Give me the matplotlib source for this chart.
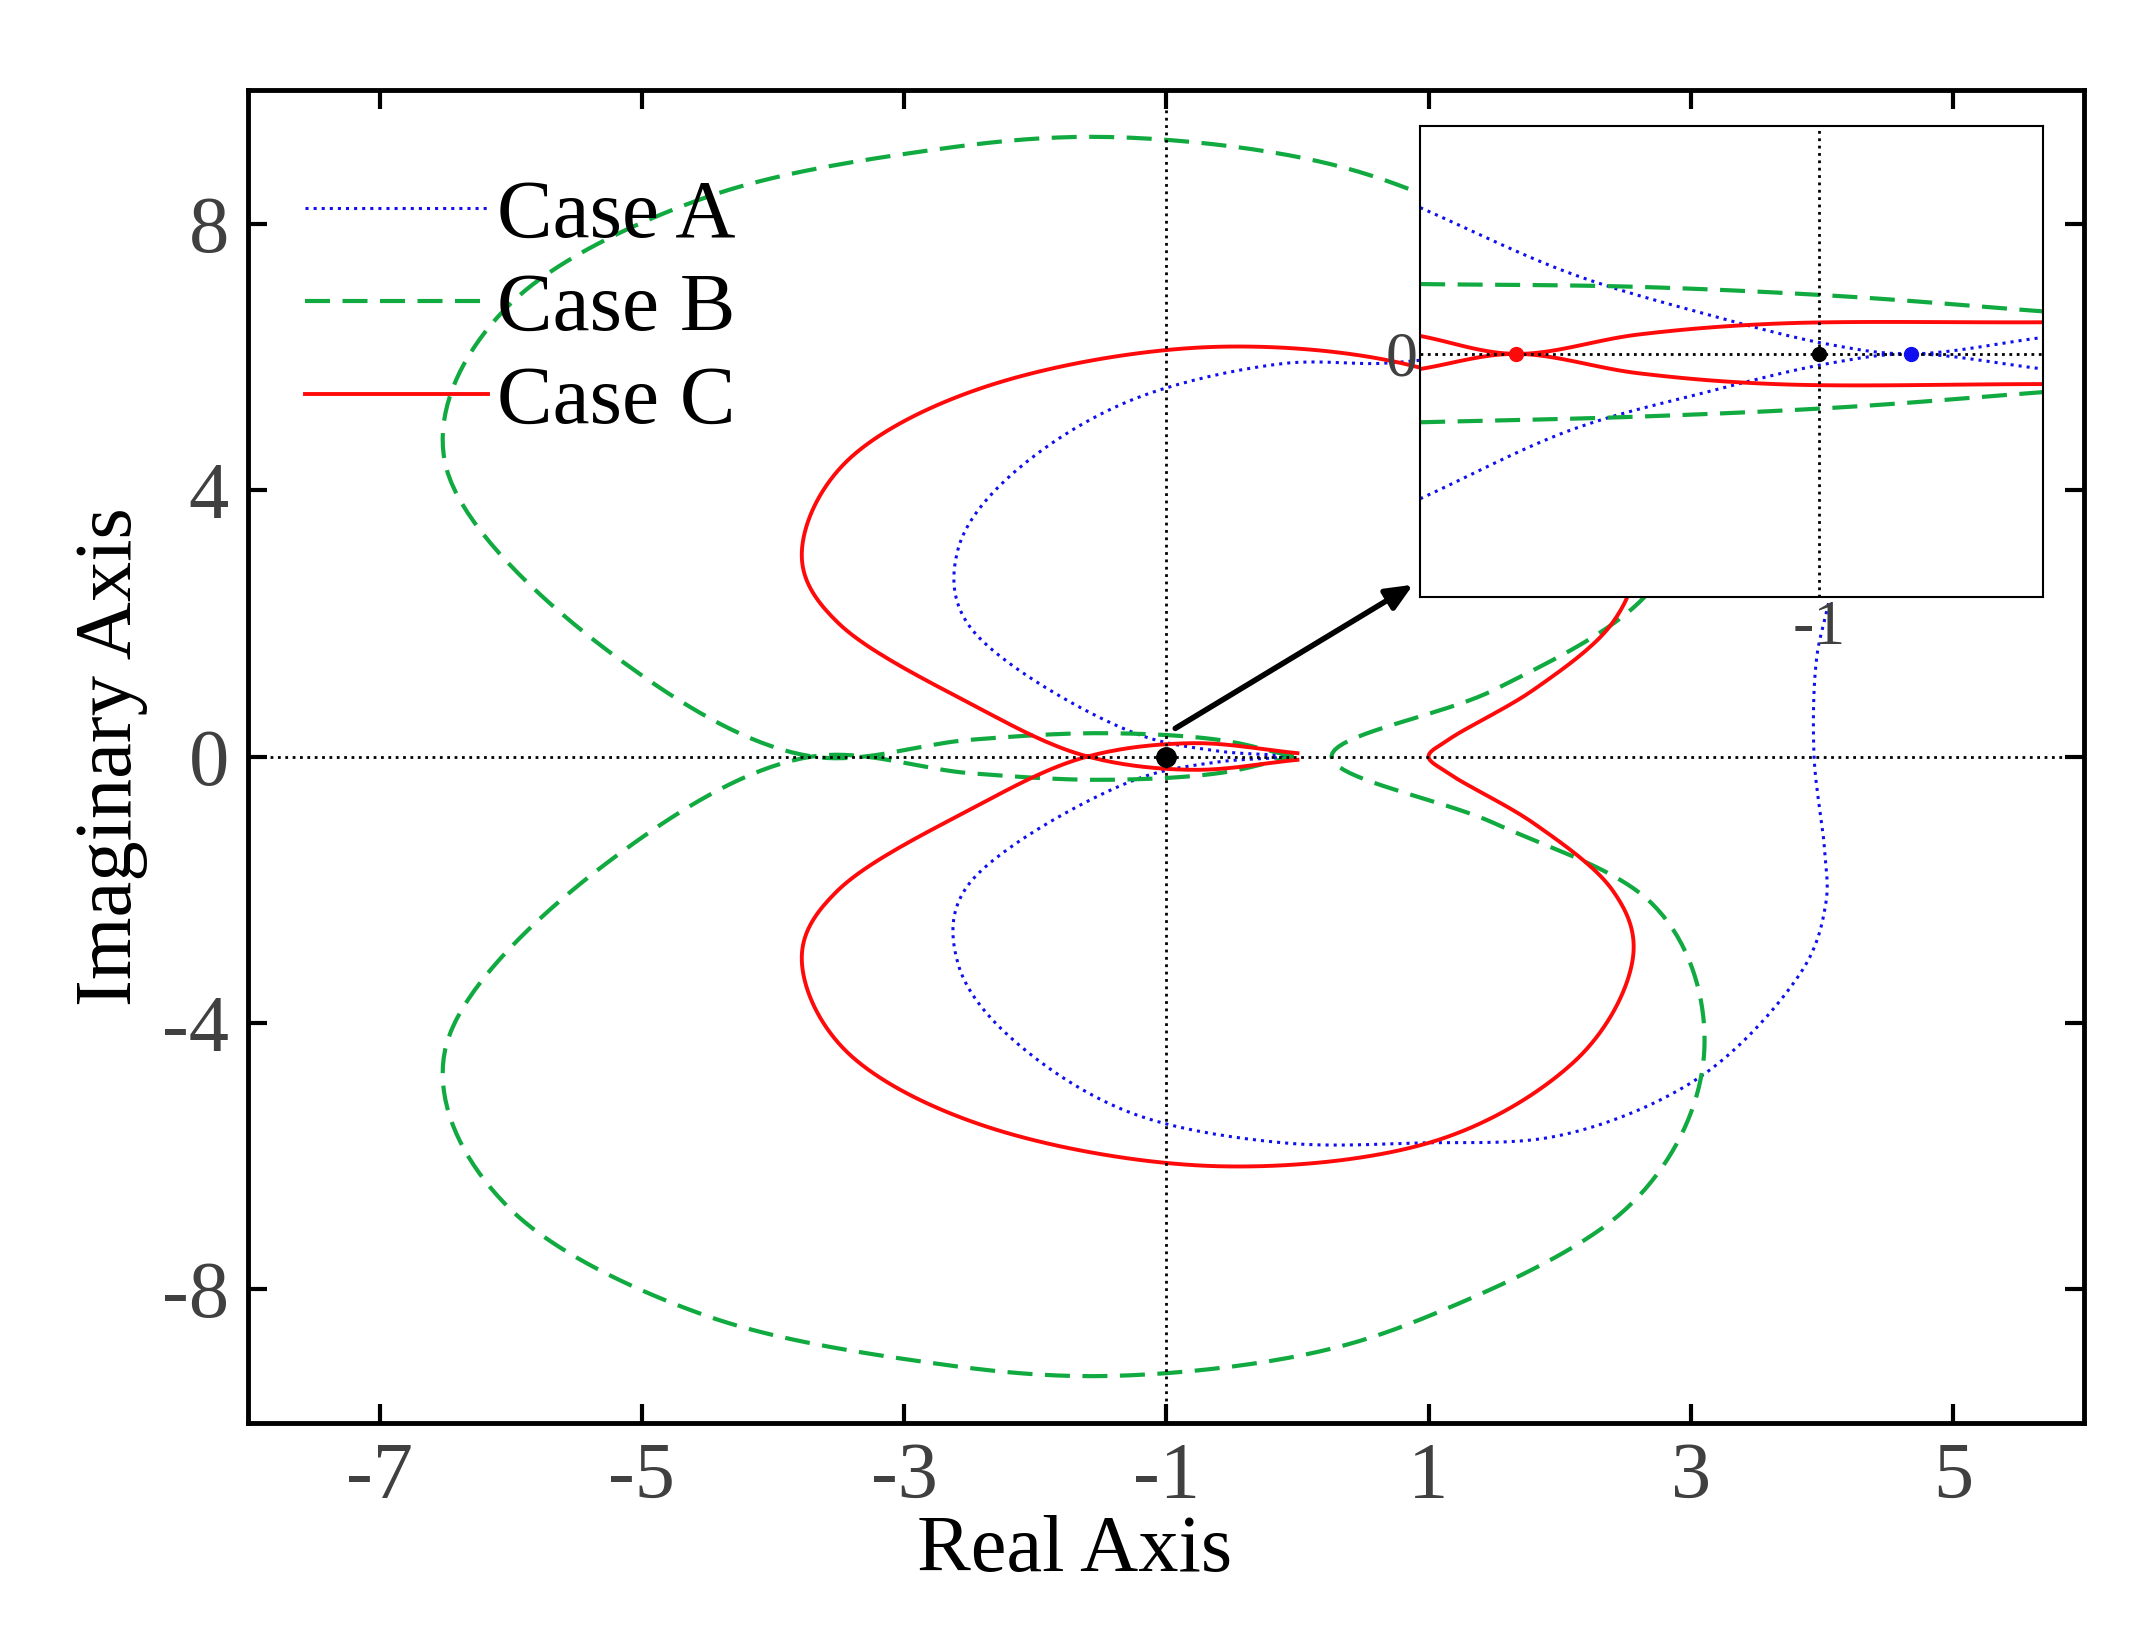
import matplotlib
matplotlib.use("Agg")
import matplotlib.pyplot as plt
import numpy as np

plt.rcParams['font.family'] = ['Liberation Serif', 'DejaVu Serif']
plt.rcParams['axes.unicode_minus'] = False

# Case A (blue dotted) main curve
a_x = [4.05, 3.96, 3.94, 4.02, 4.03, 3.84, 3.0, 1.97, 0.94, -0.1, -1.24, -2.17, -2.59, -2.5, -1.24, -0.6, -0.05,
       -0.6, -1.24, -2.48, -2.59, -2.17, -1.24, -0.1, 0.63, 1.2]
a_y = [2.3, 1.48, 0.0, -1.4, -2.2, -3.24, -4.9, -5.7, -5.8, -5.8, -5.37, -4.25, -3.1, -1.9, -0.35, -0.08, 0.0,
       0.08, 0.35, 1.9, 3.1, 4.25, 5.37, 5.9, 5.9, 6.0]
# Case B (green dashed)
b_x = [-0.03, -0.6, -1.5, -2.5, -3.7, -5.2, -6.5, -6.0, -4.5, -2.8, -1.5, 0.0, 1.0, 2.5, 3.1, 2.65, 1.5, 0.26,
       1.5, 2.7, 3.1, 2.5, 1.0, 0.0, -1.5, -2.8, -4.5, -6.0, -6.5, -5.2, -3.7, -2.5, -1.5, -0.6, -0.03]
b_y = [0.0, 0.25, 0.35, 0.25, 0.0, 1.5, 4.4, 6.8, 8.4, 9.1, 9.3, 9.0, 8.4, 6.8, 4.5, 2.4, 1.0, 0.0,
       -1.0, -2.2, -4.5, -6.8, -8.4, -9.0, -9.3, -9.1, -8.4, -6.8, -4.4, -1.5, 0.0, -0.25, -0.35, -0.25, 0.0]
# Case C (red solid)
c_x = [0.0, -0.8, -1.6, -2.5, -3.5, -3.78, -3.4, -2.3, -0.6, 1.0, 2.1, 2.56, 2.4, 1.8, 1.15, 1.0,
       1.15, 1.8, 2.4, 2.56, 2.1, 1.0, -0.6, -2.3, -3.4, -3.78, -3.5, -2.5, -1.6, -0.8, 0.0]
c_y = [-0.05, -0.2, 0.0, 0.8, 2.0, 3.0, 4.5, 5.6, 6.15, 5.8, 4.6, 3.0, 2.0, 1.0, 0.25, 0.0,
       -0.25, -1.0, -2.0, -3.0, -4.6, -5.8, -6.15, -5.6, -4.5, -3.0, -2.0, -0.8, 0.0, 0.2, 0.05]

# inset curves
ia_x = [-1.128, -1.0799, -1.0361, -0.9967, -0.9705, -0.928]
ia_yu = [0.031, 0.0171, 0.0084, 0.002, 0.0, 0.0035]
ia_yl = [-0.0307, -0.0162, -0.0081, -0.002, 0.0, -0.0032]
ib_x = [-1.128, -1.058, -0.9923, -0.928]
ib_yu = [0.0148, 0.0142, 0.0122, 0.009]
ib_yl = [-0.0145, -0.0133, -0.0113, -0.0081]
ic_x = [-1.128, -1.0974, -1.058, -1.0142, -0.928]
ic_yu = [0.0038, 0.0, 0.0041, 0.0064, 0.0067]
ic_yl = [-0.0032, 0.0, -0.0041, -0.0064, -0.0064]

BLUE = '#1010ee'; GREEN = '#10aa40'; RED = '#ff0a0a'


def smooth(xs, ys, n=20):
    """Centripetal Catmull-Rom through the read points."""
    P = np.column_stack([xs, ys]).astype(float)
    P = np.vstack([2 * P[0] - P[1], P, 2 * P[-1] - P[-2]])
    out = []
    for i in range(1, len(P) - 2):
        p0, p1, p2, p3 = P[i - 1], P[i], P[i + 1], P[i + 2]
        def tj(ti, a, b):
            return ti + max(np.linalg.norm(b - a), 1e-9) ** 0.5
        t0 = 0; t1 = tj(t0, p0, p1); t2 = tj(t1, p1, p2); t3 = tj(t2, p2, p3)
        t = np.linspace(t1, t2, n, endpoint=False)[:, None]
        A1 = (t1 - t) / (t1 - t0) * p0 + (t - t0) / (t1 - t0) * p1
        A2 = (t2 - t) / (t2 - t1) * p1 + (t - t1) / (t2 - t1) * p2
        A3 = (t3 - t) / (t3 - t2) * p2 + (t - t2) / (t3 - t2) * p3
        B1 = (t2 - t) / (t2 - t0) * A1 + (t - t0) / (t2 - t0) * A2
        B2 = (t3 - t) / (t3 - t1) * A2 + (t - t1) / (t3 - t1) * A3
        out.append((t2 - t) / (t2 - t1) * B1 + (t - t1) / (t2 - t1) * B2)
    out.append(P[-2][None, :])
    Q = np.vstack(out)
    return Q[:, 0], Q[:, 1]


fig = plt.figure(figsize=(21.42, 16.41), dpi=100)
ax = fig.add_axes([0.116, 0.133, 0.857, 0.812])
ax.plot(*smooth(a_x, a_y), ':', color=BLUE, lw=2.2, label='Case A')
ax.plot(*smooth(b_x, b_y), '--', color=GREEN, lw=3, dashes=(6, 3), label='Case B')
ax.plot(*smooth(c_x, c_y), '-', color=RED, lw=2.8, label='Case C')
ax.axhline(0, color='k', ls=':', lw=2)
ax.axvline(-1, color='k', ls=':', lw=2)
ax.plot([-1], [0], 'ko', ms=14)
ax.annotate('', xy=(0.9, 2.6), xytext=(-0.95, 0.4),
            arrowprops=dict(arrowstyle='-|>,head_length=1.6,head_width=0.7', color='k', lw=4))
ax.set_xlim(-8, 6)
ax.set_ylim(-10, 10)
ax.set_xticks([-7, -5, -3, -1, 1, 3, 5])
ax.set_yticks([-8, -4, 0, 4, 8])
ax.tick_params(direction='in', length=14, width=3, labelsize=58, labelcolor='#404040',
               top=True, right=True, pad=14)
for s in ax.spines.values():
    s.set_linewidth(3.5)
ax.set_xlabel('Real Axis', fontsize=58, labelpad=0, x=0.45)
ax.set_ylabel('Imaginary Axis', fontsize=58, labelpad=10)
ax.legend(loc='upper left', bbox_to_anchor=(-0.01, 0.99), frameon=False, fontsize=60,
          handlelength=2.2, handletextpad=0.1, labelspacing=0.2, borderaxespad=0.5)

ins = fig.add_axes([0.663, 0.636, 0.291, 0.2875])
ins.plot(*smooth(ia_x, ia_yu), ':', color=BLUE, lw=2.2)
ins.plot(*smooth(ia_x, ia_yl), ':', color=BLUE, lw=2.2)
ins.plot(*smooth(ib_x, ib_yu), '--', color=GREEN, lw=3, dashes=(6, 3))
ins.plot(*smooth(ib_x, ib_yl), '--', color=GREEN, lw=3, dashes=(6, 3))
ins.plot(*smooth(ic_x, ic_yu), '-', color=RED, lw=2.8)
ins.plot(*smooth(ic_x, ic_yl), '-', color=RED, lw=2.8)
ins.axhline(0, color='k', ls=':', lw=2)
ins.axvline(-1, color='k', ls=':', lw=2)
ins.plot([-1.0974], [0], 'o', color=RED, ms=10)
ins.plot([-0.9705], [0], 'o', color=BLUE, ms=10)
ins.plot([-1.0], [0], 'ko', ms=10)
ins.set_xlim(-1.128, -0.928)
ins.set_ylim(-0.0516, 0.0484)
ins.set_xticks([-1]); ins.set_xticklabels(['-1'])
ins.set_yticks([0]); ins.set_yticklabels(['0'])
ins.tick_params(direction='in', length=0, labelsize=46, labelcolor='#404040', pad=2)
for s in ins.spines.values():
    s.set_linewidth(1.5)

fig.savefig('out.png', dpi=100)
